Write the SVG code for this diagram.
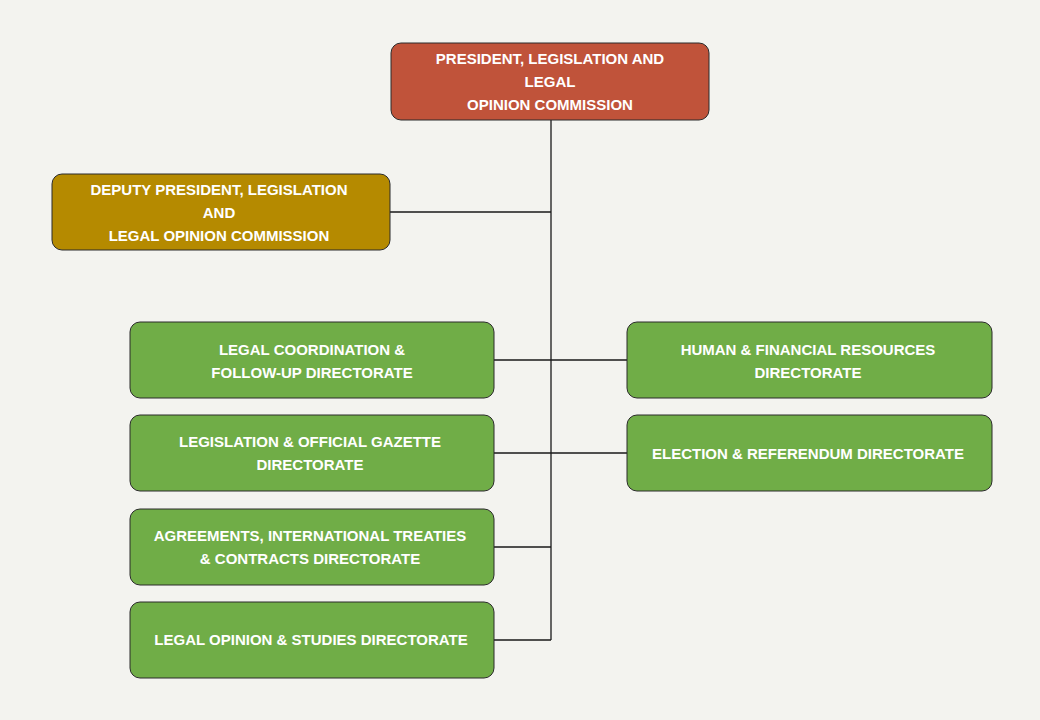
<svg xmlns="http://www.w3.org/2000/svg" width="1040" height="720" viewBox="0 0 1040 720">
<style>
.b{stroke:#2b2b2b;stroke-width:1}
.r{fill:#c0533a}.y{fill:#b58a00}.g{fill:#70ad47}
text{font-family:"Liberation Sans",Arial,sans-serif;font-weight:bold;font-size:15px;fill:#fff;text-anchor:middle}
.c{stroke:#1a1a1a;stroke-width:1.3;fill:none}
</style>
<rect width="1040" height="720" fill="#f3f3ef"/>
<g id="connectors">
<path class="c" d="M551 120V640M390 212H551M494 360H627M494 453H627M494 547H551M494 640H551"/>
</g>
<g id="president"><rect class="b r" x="391" y="43" width="318" height="77" rx="10"/>
<text x="550" y="64">PRESIDENT, LEGISLATION AND</text><text x="550" y="87">LEGAL</text><text x="550" y="110">OPINION COMMISSION</text></g>
<g id="deputy"><rect class="b y" x="52" y="174" width="338" height="76" rx="10"/>
<text x="219" y="195">DEPUTY PRESIDENT, LEGISLATION</text><text x="219" y="218">AND</text><text x="219" y="241">LEGAL OPINION COMMISSION</text></g>
<g id="coord"><rect class="b g" x="130" y="322" width="364" height="76" rx="10"/>
<text x="312" y="355">LEGAL COORDINATION &amp;</text><text x="312" y="378">FOLLOW-UP DIRECTORATE</text></g>
<g id="gazette"><rect class="b g" x="130" y="415" width="364" height="76" rx="10"/>
<text x="310" y="447">LEGISLATION &amp; OFFICIAL GAZETTE</text><text x="310" y="470">DIRECTORATE</text></g>
<g id="treaties"><rect class="b g" x="130" y="509" width="364" height="76" rx="10"/>
<text x="310" y="541">AGREEMENTS, INTERNATIONAL TREATIES</text><text x="310" y="564">&amp; CONTRACTS DIRECTORATE</text></g>
<g id="opinion"><rect class="b g" x="130" y="602" width="364" height="76" rx="10"/>
<text x="311" y="645">LEGAL OPINION &amp; STUDIES DIRECTORATE</text></g>
<g id="hr"><rect class="b g" x="627" y="322" width="365" height="76" rx="10"/>
<text x="808" y="355">HUMAN &amp; FINANCIAL RESOURCES</text><text x="808" y="378">DIRECTORATE</text></g>
<g id="election"><rect class="b g" x="627" y="415" width="365" height="76" rx="10"/>
<text x="808" y="459">ELECTION &amp; REFERENDUM DIRECTORATE</text></g>
</svg>
